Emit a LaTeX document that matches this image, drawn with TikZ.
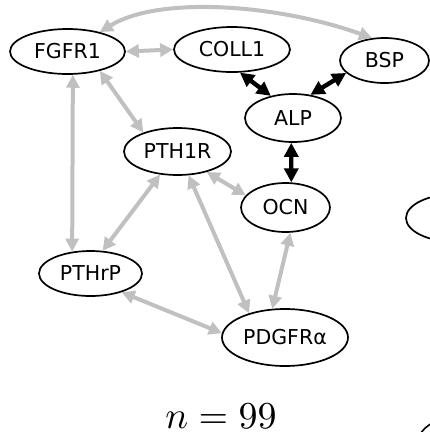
\documentclass[tikz,border=0pt]{standalone}
\usepackage{fontspec}
\usepackage{graphicx}
\setsansfont{DejaVu Sans}
\usetikzlibrary{arrows.meta,shapes.geometric}
\definecolor{edgegray}{RGB}{192,192,192}
\begin{document}
\begin{tikzpicture}[x=1pt,y=-1pt,
  gnode/.style={ellipse, draw=black, line width=1.7pt, inner sep=0pt, outer sep=0.85pt,
    font=\sffamily\fontsize{20.5}{24}\selectfont},
  gedge/.style={draw=edgegray, line width=4pt,
    {Triangle[length=13pt,width=13pt]}-{Triangle[length=13pt,width=13pt]}},
  bedge/.style={draw=black, line width=4.4pt,
    {Triangle[length=14pt,width=14pt]}-{Triangle[length=14pt,width=14pt]}}]
\useasboundingbox (0,0) rectangle (430,432);
\clip (0,0) rectangle (430,432);

\node[gnode, minimum width=115pt, minimum height=45pt] (FGFR1) at (67.5,51.5) {FGFR1};
\node[gnode, minimum width=116pt, minimum height=45pt] (COLL1) at (232,49.5) {COLL1};
\node[gnode, minimum width=89pt, minimum height=45pt] (BSP) at (384.5,60.5) {BSP};
\node[gnode, minimum width=96pt, minimum height=48pt] (ALP) at (293,118) {ALP};
\node[gnode, minimum width=89pt, minimum height=49pt] (OCN) at (285.5,207.5) {OCN};
\node[gnode, minimum width=107pt, minimum height=47pt] (PTH1R) at (177.5,151.5) {PTH1R};
\node[gnode, minimum width=103pt, minimum height=45pt] (PTHrP) at (90.5,273.5) {PTHrP};
\node[gnode, minimum width=126pt, minimum height=57pt] (PDGFRa) at (285,337.5) {PDGFRα};
\node[gnode, minimum width=100pt, minimum height=48pt] (RIGHT) at (456,218) {};

\draw[gedge] (FGFR1.east) -- (COLL1.west);
\draw[gedge] (FGFR1.31.8) .. controls (160,-5) and (280,5) .. (BSP.119);
\draw[gedge] (FGFR1.-31) -- (PTH1R.151.6);
\draw[gedge] (FGFR1.-77) -- (PTHrP.130.2);
\draw[bedge] (COLL1.-71) -- (ALP.135);
\draw[bedge] (BSP.198) -- (ALP.53.5);
\draw[bedge] (ALP.-94.8) -- (OCN.77.3);
\draw[gedge] (PTH1R.-35.9) -- (OCN.163);
\draw[gedge] (PTH1R.-127.8) -- (PTHrP.62.7);
\draw[gedge] (PTH1R.-65.8) -- (PDGFRa.146);
\draw[gedge] (OCN.-79.6) -- (PDGFRa.114.8);
\draw[gedge] (PTHrP.-31) -- (PDGFRa.176);

\node[anchor=base, inner sep=0pt] (NLABEL) at (221,428) {\fontsize{10}{12}\selectfont\scalebox{3.8}{$n = 99$}};

\coordinate (ARCA) at (419,436);
\coordinate (ARCB) at (434,422);
\draw[line width=1.6pt] (ARCA) .. controls (423,429) and (427,426) .. (ARCB);
\end{tikzpicture}
\end{document}
